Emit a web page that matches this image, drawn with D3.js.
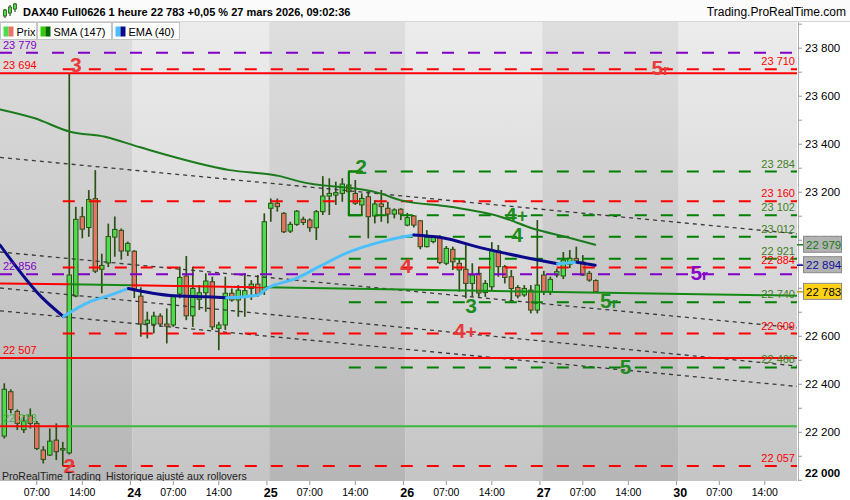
<!DOCTYPE html>
<html><head><meta charset="utf-8">
<script src="https://cdn.jsdelivr.net/npm/d3@7/dist/d3.min.js"></script>
<style>
html,body{margin:0;padding:0;background:#fff;}
svg{display:block;font-family:"Liberation Sans",Arial,Helvetica,sans-serif;}
</style></head><body>
<svg id="chart" width="850" height="500"></svg>
<script>
// ---------------- data ----------------
const opens  = [22182,22367,22285,22209,22267,22235,22124,22103,22165,22124,
                22112,22765,23096,23051,23171,22877,22903,23011,23039,22953,
                22952,22765,22652,22648,22682,22649,22645,22774,22849,22683,
                22752,22779,22825,22631,22645,22777,22749,22763,22797,22815,
                22790,23131,23152,23110,23036,23064,23085,23082,23050,23117,
                23182,23186,23193,23228,23193,23145,23179,23099,23149,23131,
                23107,23127,23061,23099,23079,22971,22992,23010,22902,22960,
                22902,22877,22818,22860,22780,22804,22954,22888,22846,22801,
                22770,22790,22707,22853,22783,22853,22849,22898,22922,22907,
                22860,22830];
const highs  = [22402,22377,22293,22270,22297,22245,22140,22214,22235,22158,
                23694,23137,23137,23207,23290,22942,23067,23097,23047,22992,
                22957,22802,22700,22700,22693,22714,22765,22888,22932,22888,
                22811,22860,22846,22658,22846,22797,22811,22860,22832,22853,
                23110,23172,23172,23115,23075,23124,23096,23089,23124,23265,
                23256,23242,23256,23284,23249,23193,23207,23165,23207,23158,
                23131,23131,23112,23103,23082,23040,23017,23019,22974,22971,
                22922,22978,22902,22888,22832,22990,22978,22895,22874,22811,
                22811,22811,23082,22870,22846,22880,22949,22957,22971,22936,
                22870,22835];
const lows   = [22172,22277,22207,22195,22214,22124,22068,22099,22082,22057,
                22105,22760,23006,23012,22861,22777,22886,22929,22917,22932,
                22757,22596,22589,22610,22637,22568,22637,22756,22665,22637,
                22707,22700,22624,22540,22624,22742,22679,22679,22749,22762,
                22770,23075,23117,23028,23028,23058,23061,23033,22999,23103,
                23103,23145,23158,23100,23145,23103,23006,23068,23075,23068,
                23089,23082,23056,23051,22960,22968,22985,22898,22894,22874,
                22783,22756,22762,22762,22762,22790,22846,22818,22749,22756,
                22762,22693,22693,22770,22770,22843,22836,22882,22911,22849,
                22825,22780];
const closes = [22377,22293,22235,22245,22235,22130,22085,22161,22117,22130,
                22853,23085,23044,23168,22869,22893,23013,23043,22953,22985,
                22795,22649,22665,22682,22649,22640,22763,22843,22683,22797,
                22779,22828,22637,22645,22777,22749,22790,22788,22815,22774,
                23075,23152,23138,23033,23064,23119,23072,23050,23117,23182,
                23193,23196,23232,23200,23152,23172,23096,23149,23138,23107,
                23124,23107,23092,23061,22971,23010,23010,22905,22964,22908,
                22874,22818,22853,22778,22818,22957,22888,22843,22797,22766,
                22797,22707,22811,22783,22835,22867,22915,22923,22913,22853,
                22832,22783];

// SMA(147) and EMA(40) read at bar positions
const smaBar = [-0.66,4.7,10.1,15.5,20.9,34.7,42.4,45.5,57.8,60.9,68.6,76.3,81.3,86.6,90.9];
const smaVal = [23543,23506,23450,23429,23385,23290,23265,23242,23193,23165,23137,23096,23047,23010,22979];
const emaBar = [-0.66,5.7,9.1,13.2,16.3,19.1,25.5,31.2,34.2,38.9,40.4,45.0,48.6,52.7,57.8,61.0,63.0,67.0,73.7,80.9,85.1,88.1,90.9];
const emaVal = [22978,22762,22680,22742,22769,22797,22768,22762,22758,22769,22797,22840,22890,22945,22990,23010,23020,23010,22964,22922,22900,22906,22894];

// time axis
const dayLabels   = ["23","24","25","26","27","30"];
const dayFirstBar = [-1,20,41,62,83,104];
const hourLabels  = ["07:00","14:00"];
const hourOffsets = [6,13];

// price axis
const yTickValues = d3.range(22000, 23901, 100);

// horizontal levels
const dashLevels  = [23779,23710,23284,23160,23102,23012,22921,22884,22856,22740,22609,22468,22057];
const dashKinds   = ["p","r","g","r","g","g","g","r","p","g","r","g","r"];
const dashFromBar = [-0.66,9,53,9,53,53,53,9,-0.66,53,9,53,9];
const solidLevels = [23694,22507];
const leftLabelVals  = [23779,23694,22856,22507,22223];
const leftLabelKinds = ["p","r","p","r","lg"];
const splitLevelVal = 22223, splitLevelBar = 10;          // red before, light green after
const bracketBar = 53, bracketTop = 23284, bracketBottom = 23102;

// trend line near 22 800 (coloured in segments)
const trendBars   = [-0.66,10,19.5,40,121.95];
const trendVals   = [22818,22814.4,22810.4,22801.9,22767];
const trendKinds  = ["r","g","r","g"];

// dotted channel lines
const chanStart = [23343,22949,22799,22704];
const chanEnd   = [23025,22633,22474,22389];

// wave marks
const markText = ["3","2","5r","2","4+","4","4","3","5r","5r","4+","5"];
const markBar  = [11.0,10.0,100.9,54.9,78.8,78.9,61.8,71.8,93.0,106.9,70.9,95.6];
const markVal  = [23699,22028,23686,23274,23074,22990,22861,22694,22715,22831,22590,22440];
const markKind = ["r","r","r","g","g","g","r","g","g","p","r","g"];

// right-axis value boxes
const boxVals  = [22979,22894,22783];
const boxKinds = ["sma","ema","price"];

// ---------------- drawing ----------------
const svg = d3.select("#chart");
const plotL=0, plotR=797, plotT=22, plotB=481;
const x = d3.scaleLinear().domain([-0.66,121.95]).range([plotL,plotR]);
const y = d3.scaleLinear().domain([21995,23907]).range([plotB,plotT]);
const loc = d3.formatLocale({decimal:",",thousands:" ",grouping:[3],currency:["","€"]});
const fmt = loc.format(",d");

const col = {r:"#ff0000", g:"#008000", p:"#8000c8", lg:"#3cb83c"};
const txtCol = {r:"#ff0000", g:"#3f7f1f", p:"#8000c8", lg:"#3cb83c"};
const markCol = {r:"#e83a3a", g:"#1e8c1e", p:"#8a00cc"};

const defs = svg.append("defs");
function grad(id, top, bot){
  const g = defs.append("linearGradient").attr("id",id).attr("gradientUnits","userSpaceOnUse")
    .attr("x1",0).attr("x2",0).attr("y1",plotT).attr("y2",plotB);
  g.append("stop").attr("offset",0).attr("stop-color",top);
  g.append("stop").attr("offset",1).attr("stop-color",bot);
}
grad("gLight","#ececec","#c5c5c5");
grad("gDark","#dedede","#b6b6b6");
defs.append("clipPath").attr("id","clip").append("rect")
  .attr("x",plotL).attr("y",plotT).attr("width",plotR-plotL).attr("height",plotB-plotT);

// header
svg.append("rect").attr("x",0).attr("y",0).attr("width",850).attr("height",plotT).attr("fill","#fbfbfb");
svg.append("line").attr("x1",0).attr("x2",850).attr("y1",21.5).attr("y2",21.5).attr("stroke","#d6d6d6");

// plot background day bands
const plot = svg.append("g").attr("clip-path","url(#clip)");
const bandIdx = d3.range(dayFirstBar.length);
plot.selectAll("rect.band").data(bandIdx).join("rect")
  .attr("x", i => i===0 ? plotL : x(dayFirstBar[i]-0.25))
  .attr("width", i => (i===bandIdx.length-1 ? plotR : x(dayFirstBar[i+1]-0.25)) - (i===0 ? plotL : x(dayFirstBar[i]-0.25)))
  .attr("y",plotT).attr("height",plotB-plotT)
  .attr("fill", i => i%2===0 ? "url(#gDark)" : "url(#gLight)");

// candles
const bars = d3.range(opens.length);
const bw = 4.4;
plot.selectAll("line.wick").data(bars).join("line")
  .attr("x1",i=>x(i)).attr("x2",i=>x(i))
  .attr("y1",i=>y(highs[i])).attr("y2",i=>y(lows[i]))
  .attr("stroke","#2b5215").attr("stroke-width",1.7);
plot.selectAll("rect.body").data(bars).join("rect")
  .attr("x",i=>x(i)-bw/2).attr("width",bw)
  .attr("y",i=>y(Math.max(opens[i],closes[i])))
  .attr("height",i=>Math.max(1.2,Math.abs(y(opens[i])-y(closes[i]))))
  .attr("fill",i=>closes[i]>=opens[i]?"#4ddc4d":"#e87467")
  .attr("stroke","#2b5215").attr("stroke-width",1);

// dotted channel lines
plot.selectAll("line.chan").data(d3.range(chanStart.length)).join("line")
  .attr("x1",x(-0.66)).attr("x2",x(121.95))
  .attr("y1",i=>y(chanStart[i])).attr("y2",i=>y(chanEnd[i]))
  .attr("stroke","#3a3a3a").attr("stroke-width",1.3).attr("stroke-dasharray","4,4");

// solid red levels
plot.selectAll("line.solid").data(solidLevels).join("line")
  .attr("x1",plotL).attr("x2",plotR).attr("y1",d=>y(d)).attr("y2",d=>y(d))
  .attr("stroke",col.r).attr("stroke-width",2);
// split level
plot.append("line").attr("x1",plotL).attr("x2",x(splitLevelBar)).attr("y1",y(splitLevelVal)).attr("y2",y(splitLevelVal))
  .attr("stroke",col.r).attr("stroke-width",2);
plot.append("line").attr("x1",x(splitLevelBar)).attr("x2",plotR).attr("y1",y(splitLevelVal)).attr("y2",y(splitLevelVal))
  .attr("stroke",col.lg).attr("stroke-width",2);

// trend line segments
plot.selectAll("line.trend").data(d3.range(trendKinds.length)).join("line")
  .attr("x1",i=>x(trendBars[i])).attr("x2",i=>x(trendBars[i+1]))
  .attr("y1",i=>y(trendVals[i])).attr("y2",i=>y(trendVals[i+1]))
  .attr("stroke",i=>trendKinds[i]==="r"?col.r:"#138a13").attr("stroke-width",2);

// dashed levels
plot.selectAll("line.dash").data(d3.range(dashLevels.length)).join("line")
  .attr("x1",i=>x(dashFromBar[i])).attr("x2",plotR)
  .attr("y1",i=>y(dashLevels[i])).attr("y2",i=>y(dashLevels[i]))
  .attr("stroke",i=>col[dashKinds[i]]).attr("stroke-width",2).attr("stroke-dasharray","12,14");
// bracket at the green levels
plot.append("path")
  .attr("d",`M${x(bracketBar)+14},${y(bracketTop)}H${x(bracketBar)}V${y(bracketBottom)}H${x(bracketBar)+14}`)
  .attr("fill","none").attr("stroke",col.g).attr("stroke-width",2);

// moving averages with colour by direction
function drawMA(bx, vals, upCol, downCol, width){
  const dirs = d3.range(bx.length-1).map(i => vals[i+1]>=vals[i] ? "up":"down");
  let runs=[], start=0;
  for(let i=1;i<=dirs.length;i++){
    if(i===dirs.length || dirs[i]!==dirs[start]){ runs.push([start,i,dirs[start]]); start=i; }
  }
  const line = d3.line().x(d=>x(d[0])).y(d=>y(d[1])).curve(d3.curveMonotoneX);
  runs.forEach(([a,b,dir])=>{
    const pts = d3.range(a,b+1).map(k=>[bx[k],vals[k]]);
    plot.append("path").attr("d",line(pts)).attr("fill","none")
      .attr("stroke",dir==="up"?upCol:downCol).attr("stroke-width",width)
      .attr("stroke-linecap","round").attr("stroke-linejoin","round");
  });
}
drawMA(smaBar, smaVal, "#33cc00", "#1b7a1b", 2);
drawMA(emaBar, emaVal, "#4cc0ff", "#0a0a8a", 3);

// left labels
svg.selectAll("text.ll").data(d3.range(leftLabelVals.length)).join("text")
  .attr("x",3).attr("y",i=>y(leftLabelVals[i])-4)
  .attr("font-size","11px").attr("fill",i=>txtCol[leftLabelKinds[i]])
  .text(i=>fmt(leftLabelVals[i]));
// right labels on dashed levels (not purple)
const rl = d3.range(dashLevels.length).filter(i=>dashKinds[i]!=="p");
svg.selectAll("text.rl").data(rl).join("text")
  .attr("x",plotR-2).attr("y",i=>y(dashLevels[i])-4).attr("text-anchor","end")
  .attr("font-size","11px").attr("fill",i=>txtCol[dashKinds[i]])
  .text(i=>fmt(dashLevels[i]));

// wave marks
const mk = svg.selectAll("text.mk").data(d3.range(markText.length)).join("text")
  .attr("x",i=>x(markBar[i])).attr("y",i=>y(markVal[i])).attr("text-anchor","middle")
  .attr("font-size","21px").attr("font-weight","bold").attr("fill",i=>markCol[markKind[i]]);
mk.each(function(i){
  const t = d3.select(this), s = markText[i];
  t.append("tspan").text(s[0]);
  if(s.length>1) t.append("tspan").attr("font-size", s[1]==="r"?"15px":"19px").text(s.slice(1));
});

// bottom info text
svg.append("text").attr("x",2).attr("y",480).attr("font-size","10.5px").attr("fill","#222")
  .text("ProRealTime Trading");
svg.append("text").attr("x",106).attr("y",480).attr("font-size","10.5px").attr("fill","#222")
  .text("Historique ajusté aux rollovers");

// right axis
svg.append("rect").attr("x",plotR).attr("y",plotT).attr("width",850-plotR).attr("height",plotB-plotT).attr("fill","#fff");
const ax = svg.append("g").attr("transform",`translate(${plotR+1},0)`)
  .call(d3.axisRight(y).tickValues(yTickValues).tickSize(4).tickPadding(3)
    .tickFormat(d=> d%200===0 ? fmt(d) : ""));
ax.select(".domain").attr("stroke","#b0b0b0").attr("d",`M0.5,${plotT}V${plotB}`);
ax.selectAll(".tick line").attr("stroke","#999");
ax.selectAll(".tick text").attr("font-size","11.5px").attr("fill","#000")
  .attr("font-family","Liberation Sans, Arial, sans-serif");
ax.selectAll(".tick text").filter(d=>d===22000).attr("font-weight","bold").attr("dy","-0.3em");

// value boxes
const boxStyle = {sma:{fill:"#b3b3b3",text:"#137a13",tick:"#137a13"},
                  ema:{fill:"#b3b3b3",text:"#1010a0",tick:"#1010a0"},
                  price:{fill:"#ffd21a",text:"#000",tick:"#c8a000"}};
const bx = svg.selectAll("g.box").data(d3.range(boxVals.length)).join("g")
  .attr("transform",i=>`translate(0,${y(boxVals[i])})`);
bx.append("line").attr("x1",plotR).attr("x2",plotR+6).attr("y1",0).attr("y2",0)
  .attr("stroke",i=>boxStyle[boxKinds[i]].tick).attr("stroke-width",1.5);
bx.append("rect").attr("x",803.5).attr("y",-8.5).attr("width",38).attr("height",16)
  .attr("fill",i=>boxStyle[boxKinds[i]].fill).attr("stroke","#8a8a8a");
bx.append("text").attr("x",806).attr("y",4).attr("font-size","11.5px")
  .attr("fill",i=>boxStyle[boxKinds[i]].text).text(i=>fmt(boxVals[i]));

// bottom axis
svg.append("rect").attr("x",0).attr("y",plotB).attr("width",850).attr("height",500-plotB).attr("fill","#fff");
const hourTicks = [];
dayFirstBar.forEach(s=>hourOffsets.forEach((o,k)=>hourTicks.push({bar:s+o,lab:hourLabels[k]})));
svg.selectAll("line.ht").data(hourTicks).join("line")
  .attr("x1",d=>x(d.bar)).attr("x2",d=>x(d.bar)).attr("y1",plotB).attr("y2",plotB+4).attr("stroke","#999");
svg.selectAll("text.ht").data(hourTicks).join("text")
  .attr("x",d=>x(d.bar)).attr("y",496).attr("text-anchor","middle").attr("font-size","10.5px").attr("fill","#000")
  .text(d=>d.lab);
svg.selectAll("line.dt").data(d3.range(1,dayFirstBar.length)).join("line")
  .attr("x1",i=>x(dayFirstBar[i]-0.6)).attr("x2",i=>x(dayFirstBar[i]-0.6)).attr("y1",plotB).attr("y2",plotB+4).attr("stroke","#999");
svg.selectAll("text.dt").data(d3.range(1,dayFirstBar.length)).join("text")
  .attr("x",i=>x(dayFirstBar[i])).attr("y",497).attr("text-anchor","middle")
  .attr("font-size","12.5px").attr("font-weight","bold").attr("fill","#000")
  .text(i=>dayLabels[i]);

// title row
const icon = svg.append("g");
const iconBars=[[5,10,16,9,18],[10,7,13,5,16],[15,4,9,3,12]];
iconBars.forEach(b=>{
  icon.append("line").attr("x1",b[0]).attr("x2",b[0]).attr("y1",b[3]).attr("y2",b[4]).attr("stroke","#2b5215").attr("stroke-width",1.2);
  icon.append("rect").attr("x",b[0]-1.5).attr("y",b[1]).attr("width",3).attr("height",b[2]-b[1]).attr("fill","#4ddc4d").attr("stroke","#2b5215").attr("stroke-width",0.8);
});
svg.append("text").attr("x",23).attr("y",16).attr("font-size","11px").attr("font-weight","bold").attr("fill","#000")
  .text("DAX40 Full0626 1 heure 22 783 +0,05 % 27 mars 2026, 09:02:36");
svg.append("text").attr("x",846).attr("y",16).attr("text-anchor","end").attr("font-size","12px").attr("fill","#000")
  .text("Trading.ProRealTime.com");

// legend boxes
const legNames=["Prix","SMA (147)","EMA (40)"];
const legCols=[["#4ddc4d","#e87467"],["#33cc00","#006600"],["#4cc0ff","#0a0a8a"]];
const legX=[0.5,37.5,112.5], legW=[36,74,67];
legNames.forEach((n,i)=>{
  const g=svg.append("g").attr("transform",`translate(${legX[i]},22.5)`);
  g.append("rect").attr("width",legW[i]).attr("height",17).attr("fill","#fdfdfd").attr("stroke","#c4c4c4");
  g.append("rect").attr("x",3).attr("y",4).attr("width",5).attr("height",10).attr("fill",legCols[i][0]);
  g.append("rect").attr("x",8).attr("y",4).attr("width",5).attr("height",10).attr("fill",legCols[i][1]);
  g.append("text").attr("x",16).attr("y",13).attr("font-size","11px").attr("fill","#000").text(n);
});
</script>
</body></html>
